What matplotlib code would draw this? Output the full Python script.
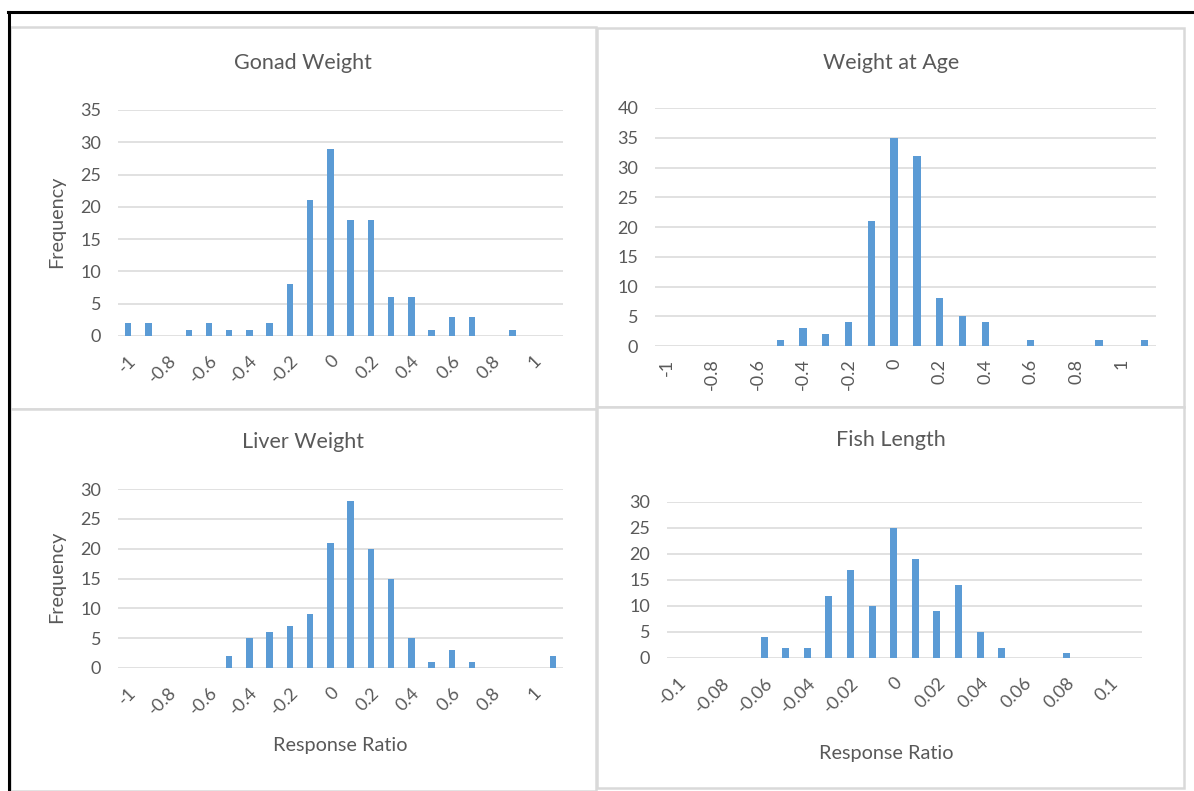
import numpy as np
import matplotlib
matplotlib.use("Agg")
import matplotlib.pyplot as plt
from matplotlib.patches import Rectangle
from matplotlib.lines import Line2D

# Histogram bins (22 categories each) and counts
rr_bins = ['-1', '-0.9', '-0.8', '-0.7', '-0.6', '-0.5', '-0.4', '-0.3', '-0.2', '-0.1', '0',
           '0.1', '0.2', '0.3', '0.4', '0.5', '0.6', '0.7', '0.8', '0.9', '1', '1.1']
fl_bins = ['-0.1', '-0.09', '-0.08', '-0.07', '-0.06', '-0.05', '-0.04', '-0.03', '-0.02', '-0.01', '0',
           '0.01', '0.02', '0.03', '0.04', '0.05', '0.06', '0.07', '0.08', '0.09', '0.1', '0.11']

gonad_weight = [2, 2, 0, 1, 2, 1, 1, 2, 8, 21, 29, 18, 18, 6, 6, 1, 3, 3, 0, 1, 0, 0]
weight_at_age = [0, 0, 0, 0, 0, 1, 3, 2, 4, 21, 35, 32, 8, 5, 4, 0, 1, 0, 0, 1, 0, 1]
liver_weight = [0, 0, 0, 0, 0, 2, 5, 6, 7, 9, 21, 28, 20, 15, 5, 1, 3, 1, 0, 0, 0, 2]
fish_length = [0, 0, 0, 0, 4, 2, 2, 12, 17, 10, 25, 19, 9, 14, 5, 2, 0, 0, 1, 0, 0, 0]

W, H = 1194, 791
BAR = '#5B9BD5'
TXT = '#595959'
GRID = '#D9D9D9'

plt.rcParams['font.family'] = ['Lato', 'DejaVu Sans']


def box(x0, y0, x1, y1):
    return [x0 / W, 1 - y1 / H, (x1 - x0) / W, (y1 - y0) / H]


fig = plt.figure(figsize=(W / 100, H / 100), dpi=100)
fig.patch.set_facecolor('white')

# chart frames
for x0, y0, x1, y1 in [(10, 27, 596, 409), (597, 28, 1184, 407),
                       (10, 409, 596, 791), (597, 407, 1184, 788)]:
    fig.add_artist(Rectangle((x0 / W, 1 - y1 / H), (x1 - x0) / W, (y1 - y0) / H,
                             transform=fig.transFigure, facecolor='white',
                             edgecolor=GRID, lw=1.8, zorder=0))

# outer black border (top and left)
fig.add_artist(Line2D([8 / W, 1], [1 - 12 / H, 1 - 12 / H], color='black', lw=2.2))
fig.add_artist(Line2D([9 / W, 9 / W], [0, 1 - 12 / H], color='black', lw=2.2))

panels = [
    (gonad_weight, rr_bins, (118, 110, 563, 336), 35, 45, 'Gonad Weight', (303, 63)),
    (weight_at_age, rr_bins, (655, 108, 1156, 346), 40, 90, 'Weight at Age', (891, 63)),
    (liver_weight, rr_bins, (118, 489, 563, 668), 30, 45, 'Liver Weight', (303, 442)),
    (fish_length, fl_bins, (667, 502, 1142, 658), 30, 45, 'Fish Length', (891, 440)),
]

for vals, cats, (x0, y0, x1, y1), ymax, rot, title, (tx, ty) in panels:
    ax = fig.add_axes(box(x0, y0, x1, y1))
    ax.set_facecolor('none')
    x = np.arange(len(cats))
    ax.bar(x, vals, width=0.32, color=BAR, zorder=3)
    ax.set_xlim(-0.5, len(cats) - 0.5)
    ax.set_ylim(0, ymax)
    ax.set_yticks(np.arange(0, ymax + 1, 5))
    ax.yaxis.grid(True, color=GRID, lw=1.1)
    ax.set_axisbelow(True)
    for s in ['top', 'right', 'left', 'bottom']:
        ax.spines[s].set_visible(False)
    ax.tick_params(axis='both', length=0, colors=TXT, labelsize=13)
    ax.tick_params(axis='y', pad=12)
    ax.set_xticks(x[::2])
    if rot == 90:
        ax.set_xticklabels(cats[::2], rotation=90, rotation_mode='anchor',
                           ha='right', va='center')
        ax.tick_params(axis='x', pad=9)
    else:
        ax.set_xticklabels(cats[::2], rotation=45, rotation_mode='anchor',
                           ha='right', va='top')
        ax.tick_params(axis='x', pad=12)
    fig.text(tx / W, 1 - ty / H, title, ha='center', va='center', fontsize=15.5, color=TXT)

# axis titles
fig.text(57 / W, 1 - 222 / H, 'Frequency', rotation=90, ha='center', va='center', fontsize=14.3, color=TXT)
fig.text(57 / W, 1 - 577 / H, 'Frequency', rotation=90, ha='center', va='center', fontsize=14.3, color=TXT)
fig.text(340 / W, 1 - 745 / H, 'Response Ratio', ha='center', va='center', fontsize=14.3, color=TXT)
fig.text(886 / W, 1 - 753 / H, 'Response Ratio', ha='center', va='center', fontsize=14.3, color=TXT)

fig.savefig('out.png', dpi=100)
